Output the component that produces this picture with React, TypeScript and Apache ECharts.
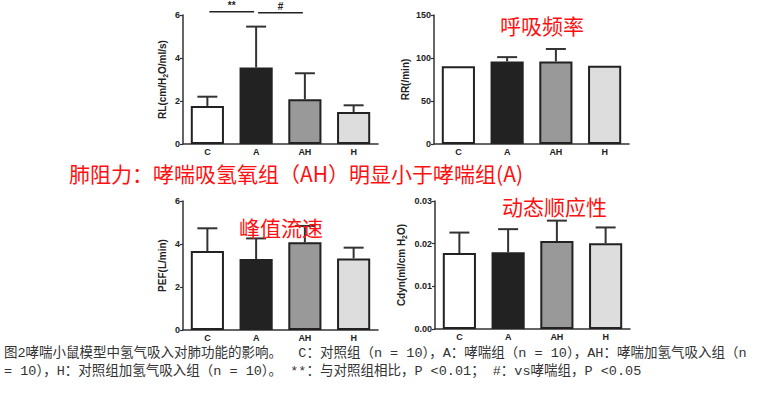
import React, { useEffect, useRef } from 'react';
import * as echarts from 'echarts';

const groups = ['C', 'A', 'AH', 'H'];
const barColors = ['#ffffff', '#222222', '#999999', '#dddddd'];

const rlMean = [1.77, 3.56, 2.08, 1.49];
const rlSd = [0.43, 1.9, 1.21, 0.31];
const rrMean = [90.5, 96, 96, 91];
const rrSd = [0, 5, 14.5, 0];
const pefMean = [3.67, 3.3, 4.08, 3.33];
const pefSd = [1.06, 0.96, 0.76, 0.5];
const cdynMean = [0.0178, 0.018, 0.0206, 0.0201];
const cdynSd = [0.0048, 0.0054, 0.0048, 0.0037];

const yNames = ['RL(cm/H{sub|2}O/ml/s)', 'RR(/min)', 'PEF(L/min)', 'Cdyn(ml/cm H{sub|2}O)'];
const yMins = [0, 0, 0, 0];
const yMaxs = [6, 150, 6, 0.03];
const yIntervals = [2, 50, 2, 0.01];
const yDecimals = [0, 0, 0, 2];

const panelTitles = ['', '呼吸频率', '峰值流速', '动态顺应性'];
const annotation = '肺阻力：哮喘吸氢氧组（AH）明显小于哮喘组(A)';
const captionLines = [
  '图2哮喘小鼠模型中氢气吸入对肺功能的影响。  C：对照组（n = 10），A：哮喘组（n = 10），AH：哮喘加氢气吸入组（n',
  '= 10），H：对照组加氢气吸入组（n = 10）。 **：与对照组相比，P <0.01； #：vs哮喘组，P <0.05',
];
const sigFrom = ['C', 'A'];
const sigTo = ['A', 'AH'];
const sigLevel = [6.15, 6.1];
const sigText = ['**', '#'];

const means = [rlMean, rrMean, pefMean, cdynMean];
const sds = [rlSd, rrSd, pefSd, cdynSd];

const grids = [
  { left: 183, top: 15, width: 195, height: 129 },
  { left: 434, top: 15, width: 195, height: 129 },
  { left: 183, top: 201, width: 195, height: 129 },
  { left: 435, top: 201, width: 195, height: 128 },
];
const nameGaps = [14, 21, 14, 27];
const titlePos = [
  null,
  { left: 500, top: 14 },
  { left: 239, top: 216 },
  { left: 502, top: 195 },
];

const axisColor = '#333';
const latin = '"Liberation Sans", Arial, sans-serif';

export default function App() {
  const ref = useRef<HTMLDivElement>(null);
  useEffect(() => {
    if (!ref.current) return;
    const chart = echarts.init(ref.current, undefined, { renderer: 'svg' });

    const xAxis = grids.map((_, i) => ({
      type: 'category',
      gridIndex: i,
      data: groups,
      axisLine: { lineStyle: { color: axisColor, width: 1.5 } },
      axisTick: { alignWithLabel: true, length: 3, lineStyle: { color: axisColor, width: 1.2 } },
      axisLabel: { fontSize: 9, fontWeight: 'bold', color: '#222', fontFamily: latin, margin: 3 },
    }));
    const yAxis = grids.map((_, i) => ({
      type: 'value',
      gridIndex: i,
      min: yMins[i],
      max: yMaxs[i],
      interval: yIntervals[i],
      name: yNames[i],
      nameLocation: 'middle',
      nameGap: nameGaps[i],
      nameTextStyle: {
        fontSize: 10,
        fontWeight: 'bold',
        color: '#222',
        fontFamily: latin,
        lineHeight: 14,
        rich: {
          sub: { fontSize: 7, fontWeight: 'bold', color: '#222', fontFamily: latin, verticalAlign: 'bottom', lineHeight: 7 },
        },
      },
      splitLine: { show: false },
      axisLine: { show: true, lineStyle: { color: axisColor, width: 1.5 } },
      axisTick: { show: true, length: 3, lineStyle: { color: axisColor, width: 1.2 } },
      axisLabel: {
        fontSize: 9,
        fontWeight: 'bold',
        color: '#222',
        fontFamily: latin,
        margin: 3,
        formatter: (v: number) => v.toFixed(yDecimals[i]),
      },
    }));

    const series: any[] = [];
    grids.forEach((_, i) => {
      series.push({
        type: 'bar',
        xAxisIndex: i,
        yAxisIndex: i,
        barWidth: '68%',
        data: means[i].map((v, j) => ({
          value: v,
          itemStyle: { color: barColors[j], borderColor: '#222', borderWidth: 2 },
        })),
      });
      series.push({
        type: 'custom',
        xAxisIndex: i,
        yAxisIndex: i,
        z: 3,
        clip: false,
        data: means[i].map((m, j) => [j, m, m + sds[i][j]]),
        renderItem: (params: any, api: any) => {
          const x = api.value(0);
          const lo = api.value(1);
          const hi = api.value(2);
          if (hi <= lo) return null;
          const p0 = api.coord([x, lo]);
          const p1 = api.coord([x, hi]);
          const half = 10;
          const st = { stroke: '#333', lineWidth: 2 };
          return {
            type: 'group',
            children: [
              { type: 'line', shape: { x1: p0[0], y1: p0[1], x2: p1[0], y2: p1[1] }, style: st },
              { type: 'line', shape: { x1: p1[0] - half, y1: p1[1], x2: p1[0] + half, y2: p1[1] }, style: st },
            ],
          };
        },
      });
    });

    // significance brackets on the RL panel
    series.push({
      type: 'custom',
      xAxisIndex: 0,
      yAxisIndex: 0,
      z: 4,
      clip: false,
      encode: { x: [0, 1], y: 2 },
      data: sigFrom.map((f, k) => [groups.indexOf(f), groups.indexOf(sigTo[k]), sigLevel[k], k]),
      renderItem: (params: any, api: any) => {
        const a = api.coord([api.value(0), api.value(2)]);
        const b = api.coord([api.value(1), api.value(2)]);
        const k = api.value(3);
        const inset = 2;
        return {
          type: 'group',
          children: [
            {
              type: 'line',
              shape: { x1: a[0] + inset, y1: a[1], x2: b[0] - inset, y2: b[1] },
              style: { stroke: '#222', lineWidth: 1.5 },
            },
            {
              type: 'text',
              style: {
                text: sigText[k],
                x: (a[0] + b[0]) / 2,
                y: a[1] - 1,
                textAlign: 'center',
                textVerticalAlign: 'bottom',
                fontSize: 10,
                fontWeight: 'bold',
                fontFamily: latin,
                fill: '#222',
              },
            },
          ],
        };
      },
    });

    const cjk = '"Noto Sans CJK SC", sans-serif';
    const graphic: any[] = [];
    panelTitles.forEach((t, i) => {
      const pos = titlePos[i];
      if (!t || !pos) return;
      graphic.push({
        type: 'text',
        left: pos.left,
        top: pos.top,
        z: 100,
        style: { text: t, fill: '#ff1010', fontSize: 21, fontFamily: cjk },
      });
    });
    graphic.push({
      type: 'text',
      left: 69,
      top: 162,
      z: 100,
      style: { text: annotation, fill: '#ff1010', fontSize: 21, fontFamily: cjk },
    });
    captionLines.forEach((line, k) => {
      graphic.push({
        type: 'text',
        left: 4,
        top: 347 + k * 18,
        z: 100,
        style: {
          text: line,
          fill: '#333',
          fontSize: 13.5,
          fontFamily: '"Liberation Mono", "Noto Sans CJK SC", monospace',
        },
      });
    });

    chart.setOption({
      animation: false,
      backgroundColor: '#ffffff',
      grid: grids.map((g) => ({ ...g, containLabel: false })),
      xAxis,
      yAxis,
      series,
      graphic,
    });
    return () => chart.dispose();
  }, []);
  return (
    <div
      ref={ref}
      style={{ position: 'fixed', left: 0, top: 0, width: 772, height: 398, background: '#fff' }}
    />
  );
}
